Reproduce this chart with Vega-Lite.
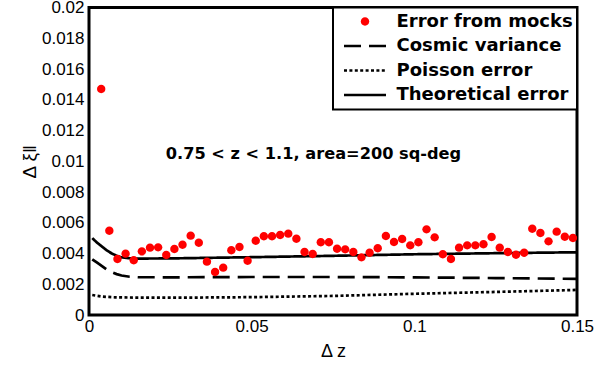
{
  "$schema": "https://vega.github.io/schema/vega-lite/v6.json",
  "autosize": {"type": "none"},
  "padding": {"left": 89, "top": 7.5, "right": 26, "bottom": 55},
  "width": 488,
  "height": 307.5,
  "background": "white",
  "config": {
    "font": "Liberation Sans",
    "view": {"stroke": "black", "strokeWidth": 3},
    "legend": {
      "orient": "top-right",
      "offset": 0,
      "padding": 4,
      "fillColor": "white",
      "strokeColor": "black",
      "strokeWidth": 2,
      "symbolSize": 1764,
      "symbolStrokeWidth": 2.7,
      "symbolOffset": 5.5,
      "labelOffset": 9,
      "labelFont": "DejaVu Sans",
      "labelFontSize": 18,
      "labelFontWeight": "bold",
      "labelColor": "black",
      "labelLimit": 300,
      "clipHeight": 20,
      "rowPadding": 4.5
    },
    "axis": {
      "domain": false,
      "ticks": false,
      "grid": false,
      "labelColor": "black",
      "labelFontSize": 17,
      "labelFont": "Liberation Sans",
      "titleColor": "black",
      "titleFont": "Liberation Sans",
      "titleFontSize": 18,
      "titleFontWeight": "normal"
    }
  },
  "datasets": {
    "yticks": [
      {"err": 0, "kind": "major"}, {"err": 0.0005, "kind": "minor"}, {"err": 0.001, "kind": "minor"}, {"err": 0.0015, "kind": "minor"},
      {"err": 0.002, "kind": "major"}, {"err": 0.0025, "kind": "minor"}, {"err": 0.003, "kind": "minor"}, {"err": 0.0035, "kind": "minor"},
      {"err": 0.004, "kind": "major"}, {"err": 0.0045, "kind": "minor"}, {"err": 0.005, "kind": "minor"}, {"err": 0.0055, "kind": "minor"},
      {"err": 0.006, "kind": "major"}, {"err": 0.0065, "kind": "minor"}, {"err": 0.007, "kind": "minor"}, {"err": 0.0075, "kind": "minor"},
      {"err": 0.008, "kind": "major"}, {"err": 0.0085, "kind": "minor"}, {"err": 0.009, "kind": "minor"}, {"err": 0.0095, "kind": "minor"},
      {"err": 0.01, "kind": "major"}, {"err": 0.0105, "kind": "minor"}, {"err": 0.011, "kind": "minor"}, {"err": 0.0115, "kind": "minor"},
      {"err": 0.012, "kind": "major"}, {"err": 0.0125, "kind": "minor"}, {"err": 0.013, "kind": "minor"}, {"err": 0.0135, "kind": "minor"},
      {"err": 0.014, "kind": "major"}, {"err": 0.0145, "kind": "minor"}, {"err": 0.015, "kind": "minor"}, {"err": 0.0155, "kind": "minor"},
      {"err": 0.016, "kind": "major"}, {"err": 0.0165, "kind": "minor"}, {"err": 0.017, "kind": "minor"}, {"err": 0.0175, "kind": "minor"},
      {"err": 0.018, "kind": "major"}, {"err": 0.0185, "kind": "minor"}, {"err": 0.019, "kind": "minor"}, {"err": 0.0195, "kind": "minor"},
      {"err": 0.02, "kind": "major"}
    ],
    "xticks": [
      {"dz": 0, "kind": "major"}, {"dz": 0.01, "kind": "minor"}, {"dz": 0.02, "kind": "minor"}, {"dz": 0.03, "kind": "minor"}, {"dz": 0.04, "kind": "minor"},
      {"dz": 0.05, "kind": "major"}, {"dz": 0.06, "kind": "minor"}, {"dz": 0.07, "kind": "minor"}, {"dz": 0.08, "kind": "minor"}, {"dz": 0.09, "kind": "minor"},
      {"dz": 0.1, "kind": "major"}, {"dz": 0.11, "kind": "minor"}, {"dz": 0.12, "kind": "minor"}, {"dz": 0.13, "kind": "minor"}, {"dz": 0.14, "kind": "minor"},
      {"dz": 0.15, "kind": "major"}
    ]
  },
  "data": {
    "values": [
      {"series": "Error from mocks", "dz": 0.00375, "err": 0.0147},
      {"series": "Error from mocks", "dz": 0.00625, "err": 0.00548},
      {"series": "Error from mocks", "dz": 0.00875, "err": 0.00364},
      {"series": "Error from mocks", "dz": 0.01125, "err": 0.00399},
      {"series": "Error from mocks", "dz": 0.01375, "err": 0.00356},
      {"series": "Error from mocks", "dz": 0.01625, "err": 0.00414},
      {"series": "Error from mocks", "dz": 0.01875, "err": 0.00438},
      {"series": "Error from mocks", "dz": 0.02125, "err": 0.0044},
      {"series": "Error from mocks", "dz": 0.02375, "err": 0.0039},
      {"series": "Error from mocks", "dz": 0.02625, "err": 0.00429},
      {"series": "Error from mocks", "dz": 0.02875, "err": 0.00457},
      {"series": "Error from mocks", "dz": 0.03125, "err": 0.00516},
      {"series": "Error from mocks", "dz": 0.03375, "err": 0.0047},
      {"series": "Error from mocks", "dz": 0.03625, "err": 0.00347},
      {"series": "Error from mocks", "dz": 0.03875, "err": 0.0028},
      {"series": "Error from mocks", "dz": 0.04125, "err": 0.00308},
      {"series": "Error from mocks", "dz": 0.04375, "err": 0.00421},
      {"series": "Error from mocks", "dz": 0.04625, "err": 0.00442},
      {"series": "Error from mocks", "dz": 0.04875, "err": 0.00353},
      {"series": "Error from mocks", "dz": 0.05125, "err": 0.00483},
      {"series": "Error from mocks", "dz": 0.05375, "err": 0.00512},
      {"series": "Error from mocks", "dz": 0.05625, "err": 0.00512},
      {"series": "Error from mocks", "dz": 0.05875, "err": 0.0052},
      {"series": "Error from mocks", "dz": 0.06125, "err": 0.00529},
      {"series": "Error from mocks", "dz": 0.06375, "err": 0.00496},
      {"series": "Error from mocks", "dz": 0.06625, "err": 0.0041},
      {"series": "Error from mocks", "dz": 0.06875, "err": 0.00397},
      {"series": "Error from mocks", "dz": 0.07125, "err": 0.00473},
      {"series": "Error from mocks", "dz": 0.07375, "err": 0.00473},
      {"series": "Error from mocks", "dz": 0.07625, "err": 0.00431},
      {"series": "Error from mocks", "dz": 0.07875, "err": 0.00427},
      {"series": "Error from mocks", "dz": 0.08125, "err": 0.0041},
      {"series": "Error from mocks", "dz": 0.08375, "err": 0.00375},
      {"series": "Error from mocks", "dz": 0.08625, "err": 0.00405},
      {"series": "Error from mocks", "dz": 0.08875, "err": 0.00434},
      {"series": "Error from mocks", "dz": 0.09125, "err": 0.00514},
      {"series": "Error from mocks", "dz": 0.09375, "err": 0.00475},
      {"series": "Error from mocks", "dz": 0.09625, "err": 0.00494},
      {"series": "Error from mocks", "dz": 0.09875, "err": 0.00453},
      {"series": "Error from mocks", "dz": 0.10125, "err": 0.00473},
      {"series": "Error from mocks", "dz": 0.10375, "err": 0.00557},
      {"series": "Error from mocks", "dz": 0.10625, "err": 0.00505},
      {"series": "Error from mocks", "dz": 0.10875, "err": 0.00395},
      {"series": "Error from mocks", "dz": 0.11125, "err": 0.00364},
      {"series": "Error from mocks", "dz": 0.11375, "err": 0.00438},
      {"series": "Error from mocks", "dz": 0.11625, "err": 0.00453},
      {"series": "Error from mocks", "dz": 0.11875, "err": 0.00453},
      {"series": "Error from mocks", "dz": 0.12125, "err": 0.0046},
      {"series": "Error from mocks", "dz": 0.12375, "err": 0.00507},
      {"series": "Error from mocks", "dz": 0.12625, "err": 0.00438},
      {"series": "Error from mocks", "dz": 0.12875, "err": 0.0041},
      {"series": "Error from mocks", "dz": 0.13125, "err": 0.00392},
      {"series": "Error from mocks", "dz": 0.13375, "err": 0.00405},
      {"series": "Error from mocks", "dz": 0.13625, "err": 0.00561},
      {"series": "Error from mocks", "dz": 0.13875, "err": 0.00533},
      {"series": "Error from mocks", "dz": 0.14125, "err": 0.00479},
      {"series": "Error from mocks", "dz": 0.14375, "err": 0.00542},
      {"series": "Error from mocks", "dz": 0.14625, "err": 0.00509},
      {"series": "Error from mocks", "dz": 0.14875, "err": 0.00501},

      {"series": "Cosmic variance", "dz": 0.001, "err": 0.00362},
      {"series": "Cosmic variance", "dz": 0.0025, "err": 0.0034},
      {"series": "Cosmic variance", "dz": 0.004, "err": 0.00318},
      {"series": "Cosmic variance", "dz": 0.0055, "err": 0.00295},
      {"series": "Cosmic variance", "dz": 0.007, "err": 0.00278},
      {"series": "Cosmic variance", "dz": 0.0085, "err": 0.00266},
      {"series": "Cosmic variance", "dz": 0.01, "err": 0.00257},
      {"series": "Cosmic variance", "dz": 0.0125, "err": 0.00249},
      {"series": "Cosmic variance", "dz": 0.015, "err": 0.00246},
      {"series": "Cosmic variance", "dz": 0.025, "err": 0.00245},
      {"series": "Cosmic variance", "dz": 0.05, "err": 0.00247},
      {"series": "Cosmic variance", "dz": 0.075, "err": 0.00247},
      {"series": "Cosmic variance", "dz": 0.1, "err": 0.00245},
      {"series": "Cosmic variance", "dz": 0.125, "err": 0.0024},
      {"series": "Cosmic variance", "dz": 0.15, "err": 0.00235},

      {"series": "Poisson error", "dz": 0.001, "err": 0.0013},
      {"series": "Poisson error", "dz": 0.004, "err": 0.0012},
      {"series": "Poisson error", "dz": 0.008, "err": 0.00115},
      {"series": "Poisson error", "dz": 0.015, "err": 0.00113},
      {"series": "Poisson error", "dz": 0.03, "err": 0.00113},
      {"series": "Poisson error", "dz": 0.05, "err": 0.00116},
      {"series": "Poisson error", "dz": 0.075, "err": 0.00124},
      {"series": "Poisson error", "dz": 0.1, "err": 0.00138},
      {"series": "Poisson error", "dz": 0.125, "err": 0.0015},
      {"series": "Poisson error", "dz": 0.15, "err": 0.00163},

      {"series": "Theoretical error", "dz": 0.001, "err": 0.005},
      {"series": "Theoretical error", "dz": 0.0025, "err": 0.0047},
      {"series": "Theoretical error", "dz": 0.004, "err": 0.00445},
      {"series": "Theoretical error", "dz": 0.0055, "err": 0.0042},
      {"series": "Theoretical error", "dz": 0.007, "err": 0.004},
      {"series": "Theoretical error", "dz": 0.0085, "err": 0.00385},
      {"series": "Theoretical error", "dz": 0.01, "err": 0.00375},
      {"series": "Theoretical error", "dz": 0.0125, "err": 0.00369},
      {"series": "Theoretical error", "dz": 0.015, "err": 0.00367},
      {"series": "Theoretical error", "dz": 0.025, "err": 0.00368},
      {"series": "Theoretical error", "dz": 0.05, "err": 0.00376},
      {"series": "Theoretical error", "dz": 0.075, "err": 0.00385},
      {"series": "Theoretical error", "dz": 0.1, "err": 0.00395},
      {"series": "Theoretical error", "dz": 0.125, "err": 0.00402},
      {"series": "Theoretical error", "dz": 0.15, "err": 0.00408}
    ]
  },
  "encoding": {
    "x": {
      "field": "dz",
      "type": "quantitative",
      "scale": {"domain": [0, 0.15], "nice": false, "zero": false},
      "axis": {
        "title": "Δ z",
        "titlePadding": 8,
        "values": [0, 0.05, 0.1, 0.15],
        "labelExpr": "'' + datum.value",
        "labelPadding": 3,
        "labelFlush": false,
        "labelOverlap": false
      }
    },
    "y": {
      "field": "err",
      "type": "quantitative",
      "scale": {"domain": [0, 0.02], "nice": false, "zero": false},
      "axis": {
        "title": "Δ ξ‖",
        "titleFontSize": 19,
        "titlePadding": 2,
        "values": [0, 0.002, 0.004, 0.006, 0.008, 0.01, 0.012, 0.014, 0.016, 0.018, 0.02],
        "labelExpr": "'' + datum.value",
        "labelPadding": 5,
        "labelFlush": false,
        "labelOverlap": false
      }
    }
  },
  "layer": [
    {
      "data": {"name": "yticks"},
      "transform": [{"filter": "datum.kind === 'major'"}],
      "mark": {"type": "tick", "orient": "horizontal", "color": "black", "opacity": 1, "size": 12, "thickness": 2.5, "xOffset": 6},
      "encoding": {"x": {"datum": 0, "type": "quantitative"}}
    },
    {
      "data": {"name": "yticks"},
      "transform": [{"filter": "datum.kind === 'minor'"}],
      "mark": {"type": "tick", "orient": "horizontal", "color": "black", "opacity": 1, "size": 7, "thickness": 2.5, "xOffset": 3.5},
      "encoding": {"x": {"datum": 0, "type": "quantitative"}}
    },
    {
      "data": {"name": "xticks"},
      "transform": [{"filter": "datum.kind === 'major'"}],
      "mark": {"type": "tick", "orient": "vertical", "color": "black", "opacity": 1, "size": 10, "thickness": 2.5, "yOffset": -5},
      "encoding": {"y": {"datum": 0, "type": "quantitative"}}
    },
    {
      "data": {"name": "xticks"},
      "transform": [{"filter": "datum.kind === 'minor'"}],
      "mark": {"type": "tick", "orient": "vertical", "color": "black", "opacity": 1, "size": 5, "thickness": 2.5, "yOffset": -2.5},
      "encoding": {"y": {"datum": 0, "type": "quantitative"}}
    },
    {
      "transform": [{"filter": "datum.series !== 'Error from mocks'"}],
      "mark": {"type": "line", "color": "black", "strokeWidth": 2.7, "strokeCap": "butt"},
      "encoding": {
        "strokeDash": {
          "field": "series",
          "type": "nominal",
          "scale": {"domain": ["Error from mocks", "Cosmic variance", "Poisson error", "Theoretical error"], "range": [[1, 0], [17, 8], [3, 2.4], [1, 0]]},
          "legend": {"title": null}
        }
      }
    },
    {
      "transform": [{"filter": "datum.series === 'Error from mocks'"}],
      "mark": {"type": "point", "filled": true, "opacity": 1, "size": 1764},
      "encoding": {
        "color": {
          "field": "series",
          "type": "nominal",
          "scale": {"domain": ["Error from mocks", "Cosmic variance", "Poisson error", "Theoretical error"], "range": ["#ff0000", "black", "black", "black"]},
          "legend": {"title": null}
        },
        "stroke": {
          "field": "series",
          "type": "nominal",
          "scale": {"domain": ["Error from mocks", "Cosmic variance", "Poisson error", "Theoretical error"], "range": ["transparent", "black", "black", "black"]},
          "legend": {"title": null}
        },
        "shape": {
          "field": "series",
          "type": "nominal",
          "scale": {"domain": ["Error from mocks", "Cosmic variance", "Poisson error", "Theoretical error"], "range": ["M0,-0.2A0.2,0.2 0 1,1 0,0.2A0.2,0.2 0 1,1 0,-0.2Z", "M-1,0H1", "M-1,0H1", "M-1,0H1"]},
          "legend": {"title": null}
        },
        "strokeDash": {
          "field": "series",
          "type": "nominal",
          "scale": {"domain": ["Error from mocks", "Cosmic variance", "Poisson error", "Theoretical error"], "range": [[1, 0], [17, 8], [3, 2.4], [1, 0]]},
          "legend": {"title": null}
        }
      }
    },
    {
      "data": {"values": [{"dz": 0.069, "err": 0.0105, "label": "0.75 < z < 1.1, area=200 sq-deg"}]},
      "mark": {"type": "text", "font": "DejaVu Sans", "fontSize": 16.2, "fontWeight": "bold", "color": "black", "align": "center", "baseline": "middle"},
      "encoding": {
        "text": {"field": "label"}
      }
    }
  ]
}
